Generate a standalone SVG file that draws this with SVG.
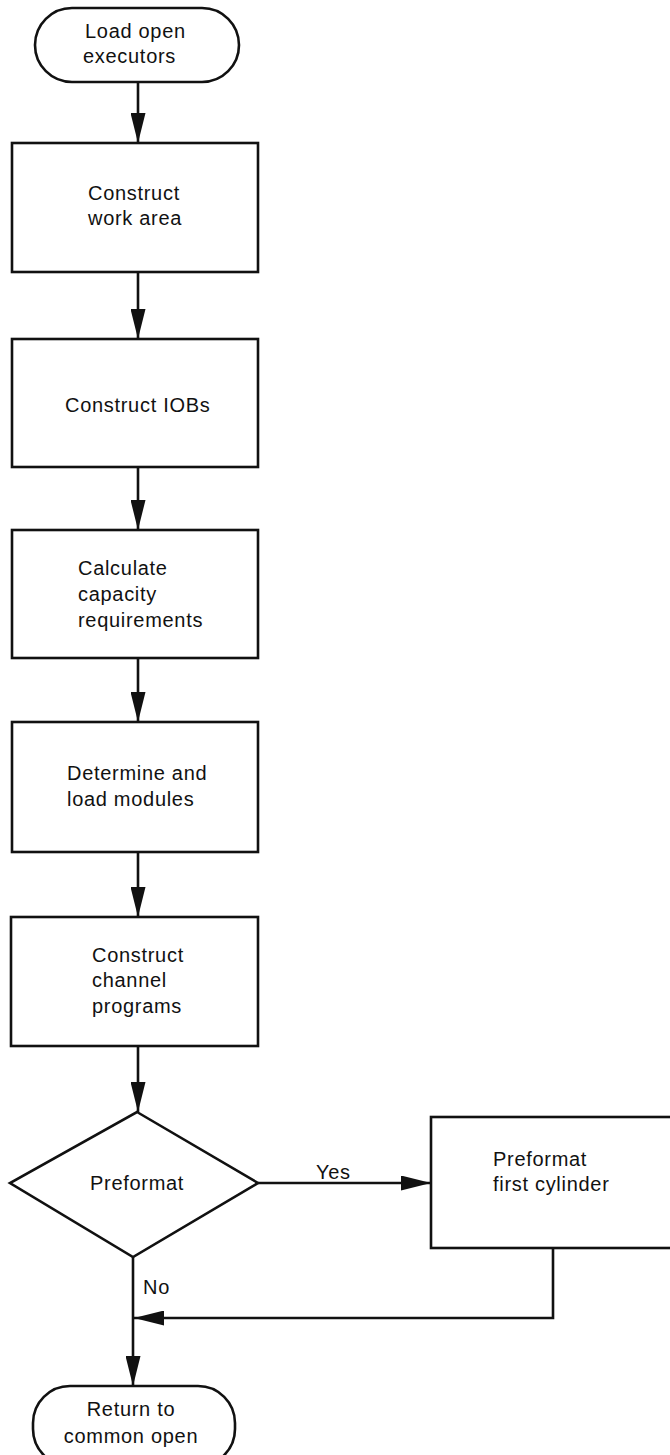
<svg xmlns="http://www.w3.org/2000/svg" width="670" height="1455" viewBox="0 0 670 1455">
<style>
.s{fill:#fff;stroke:#111;stroke-width:2.6}
.t{font-family:"Liberation Sans",Arial,sans-serif;font-size:20px;fill:#111;letter-spacing:0.7px}
.c{stroke:#111;stroke-width:2.6;fill:none}
</style>
<defs>
<marker id="ah" viewBox="0 0 30 15" refX="30" refY="7.5" markerWidth="30" markerHeight="15" markerUnits="userSpaceOnUse" orient="auto">
<path d="M0,0 L30,7.5 L0,15 Z" fill="#111"/>
</marker>
</defs>
<rect width="670" height="1455" fill="#fff"/>
<g id="connectors">
<line class="c" x1="138" y1="82" x2="138" y2="143" marker-end="url(#ah)"/>
<line class="c" x1="138" y1="272" x2="138" y2="339" marker-end="url(#ah)"/>
<line class="c" x1="138" y1="467" x2="138" y2="530" marker-end="url(#ah)"/>
<line class="c" x1="138" y1="658" x2="138" y2="722" marker-end="url(#ah)"/>
<line class="c" x1="138" y1="852" x2="138" y2="917" marker-end="url(#ah)"/>
<line class="c" x1="138" y1="1046" x2="138" y2="1112" marker-end="url(#ah)"/>
<line class="c" x1="258" y1="1183" x2="431" y2="1183" marker-end="url(#ah)"/>
<polyline class="c" points="553,1248 553,1318 134,1318" marker-end="url(#ah)"/>
<line class="c" x1="133" y1="1257" x2="133" y2="1386" marker-end="url(#ah)"/>
<text class="t" x="316" y="1179">Yes</text>
<text class="t" x="143" y="1294">No</text>
</g>
<g id="start">
<rect class="s" x="35" y="8" width="204" height="74" rx="37" ry="37"/>
<text class="t" x="85" y="38">Load open</text>
<text class="t" x="83" y="63">executors</text>
</g>
<g id="work-area">
<rect class="s" x="12" y="143" width="246" height="129"/>
<text class="t" x="88" y="200">Construct</text>
<text class="t" x="88" y="225">work area</text>
</g>
<g id="iobs">
<rect class="s" x="12" y="339" width="246" height="128"/>
<text class="t" x="65" y="412">Construct IOBs</text>
</g>
<g id="capacity">
<rect class="s" x="12" y="530" width="246" height="128"/>
<text class="t" x="78" y="575">Calculate</text>
<text class="t" x="78" y="601">capacity</text>
<text class="t" x="78" y="627">requirements</text>
</g>
<g id="modules">
<rect class="s" x="12" y="722" width="246" height="130"/>
<text class="t" x="67" y="780">Determine and</text>
<text class="t" x="67" y="806">load modules</text>
</g>
<g id="channel">
<rect class="s" x="11" y="917" width="247" height="129"/>
<text class="t" x="92" y="962">Construct</text>
<text class="t" x="92" y="987">channel</text>
<text class="t" x="92" y="1013">programs</text>
</g>
<g id="decision">
<polygon class="s" points="137,1112 258,1183 133,1257 10,1183"/>
<text class="t" x="90" y="1190">Preformat</text>
</g>
<g id="preformat-box">
<rect class="s" x="431" y="1117" width="245" height="131"/>
<text class="t" x="493" y="1166">Preformat</text>
<text class="t" x="493" y="1191">first cylinder</text>
</g>
<g id="end">
<rect class="s" x="33" y="1386" width="202" height="80" rx="37" ry="37"/>
<text class="t" x="131" y="1416" text-anchor="middle">Return to</text>
<text class="t" x="131" y="1443" text-anchor="middle">common open</text>
</g>
</svg>
